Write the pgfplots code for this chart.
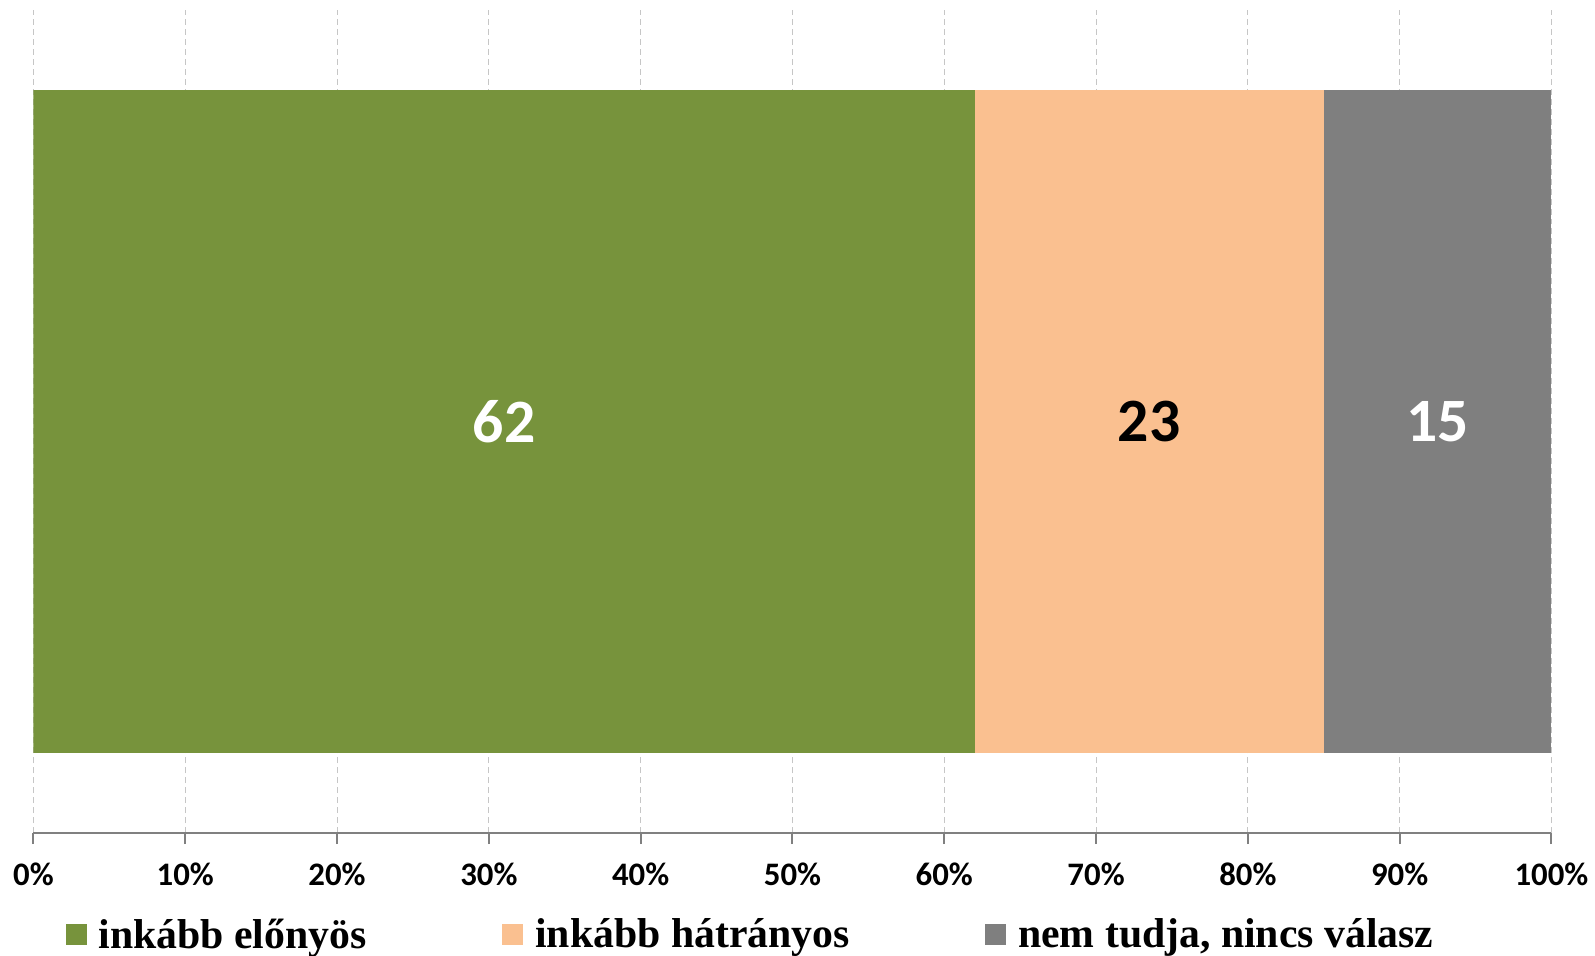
\documentclass[border=0pt]{standalone}
\usepackage{pgfplots}
\pgfplotsset{compat=1.18}
\usepackage{fontspec}
\setmainfont{Liberation Serif}
\newfontfamily\carlito{Carlito}
\usetikzlibrary{calc}

\definecolor{cgreen}{HTML}{77933C}
\definecolor{cpeach}{HTML}{FAC090}
\definecolor{cgray}{HTML}{7F7F7F}

\begin{document}
\begin{tikzpicture}
    \begin{axis}[
        name=ax,
        scale only axis,
        width=760.75bp,
        height=412.5bp,
        xbar stacked,
        bar width=0.8055,
        xmin=0, xmax=100,
        ymin=-0.5, ymax=0.5,
        axis x line*=bottom,
        axis y line=none,
        ytick=\empty,
        xtick={0,10,...,100},
        xticklabel={\pgfmathprintnumber{\tick}\%},
        xticklabel style={font=\carlito\bfseries\fontsize{16.5}{18}\selectfont, yshift=-6bp},
        /pgf/number format/assume math mode=true,
        tick align=outside,
        major tick length=5.5bp,
        tick style={gray, line width=1bp},
        axis line style={gray, line width=1bp},
        xmajorgrids,
        major grid style={gray!45, line width=0.5bp, dash pattern=on 3bp off 2bp},
        nodes near coords,
        point meta=explicit symbolic,
        every node near coord/.append style={anchor=center, font=\carlito\bfseries\fontsize{31}{36}\selectfont},
        legend style={
            at={(0,0)}, anchor=west,
            xshift=16bp, yshift=-51bp,
            draw=none, inner sep=0pt,
            legend columns=3,
            font=\bfseries\fontsize{21}{24}\selectfont,
            /tikz/every odd column/.append style={column sep=4bp},
            /tikz/every even column/.append style={column sep=66bp},
            legend cell align=left,
        },
        legend image code/.code={
            \fill[#1] (0bp,-5.25bp) rectangle (10.5bp,5.25bp);
        },
    ]
    \addplot[fill=cgreen, draw=none,
        every node near coord/.append style={white}]
        coordinates {(62,0) [62]};
    \addlegendentry{inkább előnyös}
    \addplot[fill=cpeach, draw=none,
        every node near coord/.append style={black}]
        coordinates {(23,0) [23]};
    \addlegendentry{inkább hátrányos}
    \addplot[fill=cgray, draw=none,
        every node near coord/.append style={white}]
        coordinates {(15,0) [15]};
    \addlegendentry{nem tudja, nincs válasz}
    \end{axis}
    \path[use as bounding box] ($(ax.south west)+(-16.75bp,-58.5bp)$) rectangle ($(ax.north east)+(20bp,5bp)$);
\end{tikzpicture}
\end{document}
